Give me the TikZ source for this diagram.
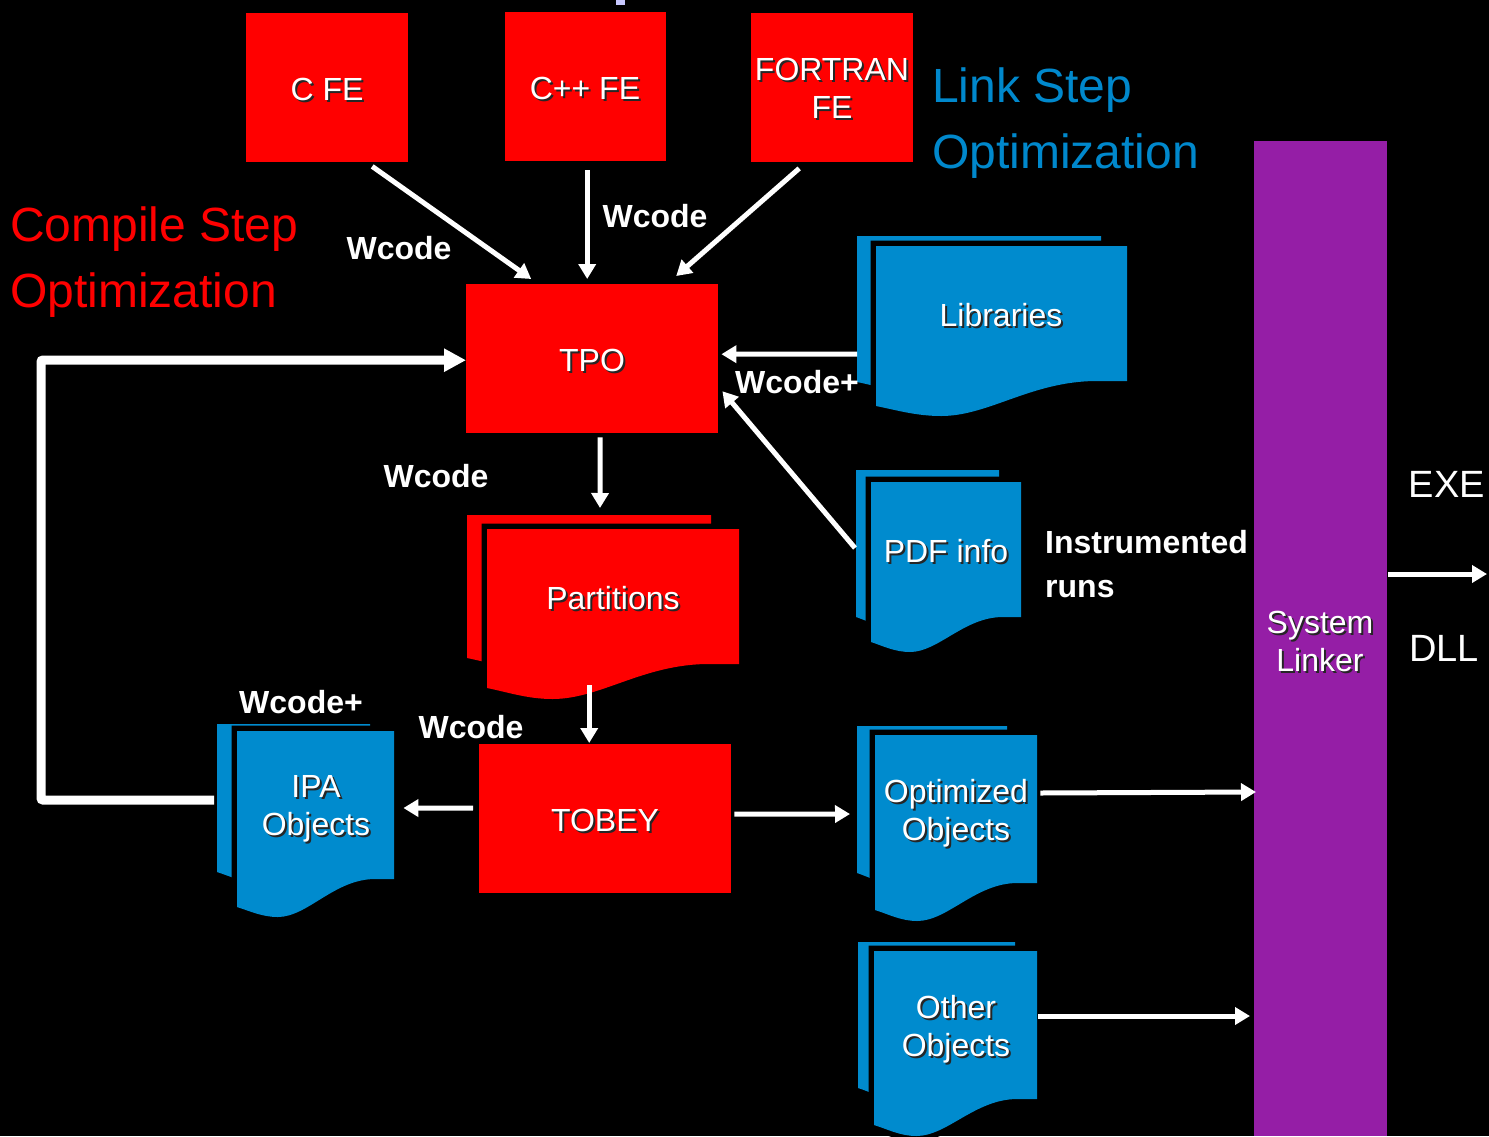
\documentclass[tikz,border=0pt]{standalone}
\usepackage{fontspec}
\setmainfont{Liberation Sans}
\usetikzlibrary{arrows.meta,calc}
\definecolor{pptred}{RGB}{255,0,0}
\definecolor{docblue}{RGB}{0,139,206}
\definecolor{linkblue}{RGB}{0,136,204}
\definecolor{linkpurple}{RGB}{149,30,166}
\definecolor{straymark}{RGB}{200,200,255}
% #1 name, #2 x, #3 y, #4 w, #5 h, #6 left-bottom drop, #7 lowest drop, #8 path style
\newcommand\docsheet[8]{%
  \path[#8] (#2,#3) -- ({#2+#4},#3) -- ({#2+#4},{#3+#5}) -- ({#2+0.88*#4},{#3+#5})
    .. controls ({#2+0.62*#4},{#3+#5}) and ({#2+0.45*#4},{#3+#5+#7}) .. ({#2+0.26*#4},{#3+#5+#7})
    .. controls ({#2+0.16*#4},{#3+#5+#7}) and ({#2+0.08*#4},{#3+#5+#6+4}) .. (#2,{#3+#5+#6}) -- cycle;
  \node[inner sep=0pt, minimum width=#4pt, minimum height=#5pt, anchor=north west] (#1) at (#2,#3) {};
}
% #1 name, #2 position, #3 text (white text with drop shadow)
\newcommand\shlabel[3]{%
  \node[boxlbl, text=black!85, xshift=2pt, yshift=-2pt] (#1-sh) at (#2) {#3};
  \node[boxlbl] (#1) at (#2) {#3};
}
\tikzset{
  wire/.style={draw=white, line width=5pt, -{Triangle[length=15pt,width=17pt]}},
  bigwire/.style={draw=white, line width=9pt, rounded corners=2pt, -{Triangle[length=22pt,width=22pt]}},
  redbox/.style={fill=pptred, inner sep=0pt, anchor=north west},
  boxlbl/.style={text=white, font=\fontsize{32}{38}\selectfont, align=center, inner sep=0pt},
  wlbl/.style={text=white, font=\bfseries\fontsize{32}{44}\selectfont, inner sep=0pt},
  biglbl/.style={font=\fontsize{48}{66}\selectfont, inner sep=0pt, align=left, anchor=west},
  outlbl/.style={text=white, font=\fontsize{38}{44}\selectfont, inner sep=0pt},
  frontred/.style={fill=pptred, preaction={draw=black, line width=11pt}},
  frontblue/.style={fill=docblue, preaction={draw=black, line width=11pt}},
  backred/.style={fill=pptred},
  backblue/.style={fill=docblue},
}
\begin{document}
\begin{tikzpicture}[x=1pt,y=-1pt]
\useasboundingbox (0,0) rectangle (1489,1136);
\clip (0,0) rectangle (1489,1136);
\fill[black] (0,0) rectangle (1489,1136);
\fill[straymark] (616,0) rectangle (625,5);

% red process boxes
\node[redbox, minimum width=162pt, minimum height=149pt] (cfe) at (246,13) {};
\node[redbox, minimum width=161pt, minimum height=149pt] (cppfe) at (505,12) {};
\node[redbox, minimum width=162pt, minimum height=149pt] (ffe) at (751,13) {};
\node[redbox, minimum width=252pt, minimum height=149pt] (tpo) at (466,284) {};
\node[redbox, minimum width=252pt, minimum height=149pt] (tobey) at (479,744) {};
\node[fill=linkpurple, inner sep=0pt, anchor=north west, minimum width=133pt, minimum height=995pt] (linker) at (1254,141) {};

% document stacks
\docsheet{libb}{857}{236}{244}{121}{25}{35}{backblue}
\docsheet{libf}{876}{246}{251}{135}{25}{35}{frontblue}
\docsheet{partb}{467}{515}{244}{118}{25}{35}{backred}
\docsheet{partf}{487}{529}{252}{135}{24}{35}{frontred}
\docsheet{pdfb}{856}{470}{143}{122}{25}{35}{backblue}
\docsheet{pdff}{871}{482}{150}{135}{25}{35}{frontblue}
\docsheet{ipab}{217}{724}{153}{120}{28}{38}{backblue}
\docsheet{ipaf}{237}{731}{157}{148}{28}{38}{frontblue}
\docsheet{optb}{857}{726}{150}{120}{27}{38}{backblue}
\docsheet{optf}{875}{735}{162}{148}{27}{38}{frontblue}
\docsheet{othb}{858}{942}{157}{119}{27}{38}{backblue}
\docsheet{othf}{874}{951}{163}{148}{26}{37}{frontblue}

% labels inside shapes
\shlabel{cfel}{327,89}{C FE}
\shlabel{cppl}{585,88}{C++ FE}
\shlabel{ffel}{832,88}{FORTRAN\\FE}
\shlabel{tpol}{592,360}{TPO}
\shlabel{partl}{613,598}{Partitions}
\shlabel{libl}{1001,315}{Libraries}
\shlabel{pdfl}{946,551}{PDF info}
\shlabel{ipal}{316,809}{IPA\\Objects}
\shlabel{tobeyl}{605,820}{TOBEY}
\shlabel{optl}{956,813}{Optimized\\Objects}
\shlabel{othl}{956,1029}{Other\\Objects}
\shlabel{linkl}{1320,641}{System\\Linker}

% connectors
\draw[wire] ($(cfe.south)+(45,4)$) -- ($(tpo.north)+(-61,-5)$);
\draw[wire] ($(cppfe.south)+(1.5,9)$) -- ($(tpo.north)+(-5,-5)$);
\draw[wire] ($(ffe.south)+(-33,6)$) -- ($(tpo.north)+(84,-8)$);
\draw[wire] ($(libb.north west)+(0,118)$) -- ($(tpo.east)+(3,-4.5)$);
\draw[wire] ($(pdfb.north west)+(-1,78)$) -- ($(tpo.east)+(4,32.5)$);
\draw[wire] ($(tpo.south)+(8,4)$) -- ($(partb.north west)+(133,-7)$);
\draw[wire] ($(tobey.north)+(-16,-59)$) -- ($(tobey.north)+(-16,-1)$);
\draw[wire] ($(tobey.west)+(-6,-10.5)$) -- ($(ipaf.north east)+(9,77)$);
\draw[wire] ($(tobey.east)+(3,-4.5)$) -- ($(optb.north west)+(-7,88)$);
\draw[wire] ($(optf.north east)+(3,58)$) -- ($(linker.north west)+(2,651)$);
\draw[wire] ($(othf.north east)+(1,65)$) -- ($(linker.north west)+(-4,875)$);
\coordinate (outend) at (1487,574);
\draw[wire] ($(linker.north east)+(1,433)$) -- (outend);
\draw[bigwire] ($(ipab.north west)+(-3,76)$) -| (41,360) -- ($(tpo.west)+(0,1.5)$);

% connector labels
\node[wlbl] (w1) at (399,248) {Wcode};
\node[wlbl] (w2) at (655,216) {Wcode};
\node[wlbl] (w3) at (797,382) {Wcode+};
\node[wlbl] (w4) at (436,476) {Wcode};
\node[wlbl] (w5) at (301,702) {Wcode+};
\node[wlbl] (w6) at (471,727) {Wcode};
\node[wlbl, align=left, anchor=west] (instr) at (1045,564) {Instrumented\\runs};

% titles
\node[biglbl, text=pptred] (compile) at (10,262) {Compile Step\\Optimization};
\node[biglbl, text=linkblue] (linkstep) at (932,123) {Link Step\\Optimization};
\node[outlbl] (exe) at (1447,484) {EXE};
\node[outlbl] (dll) at (1444,648) {DLL};
\end{tikzpicture}
\end{document}
